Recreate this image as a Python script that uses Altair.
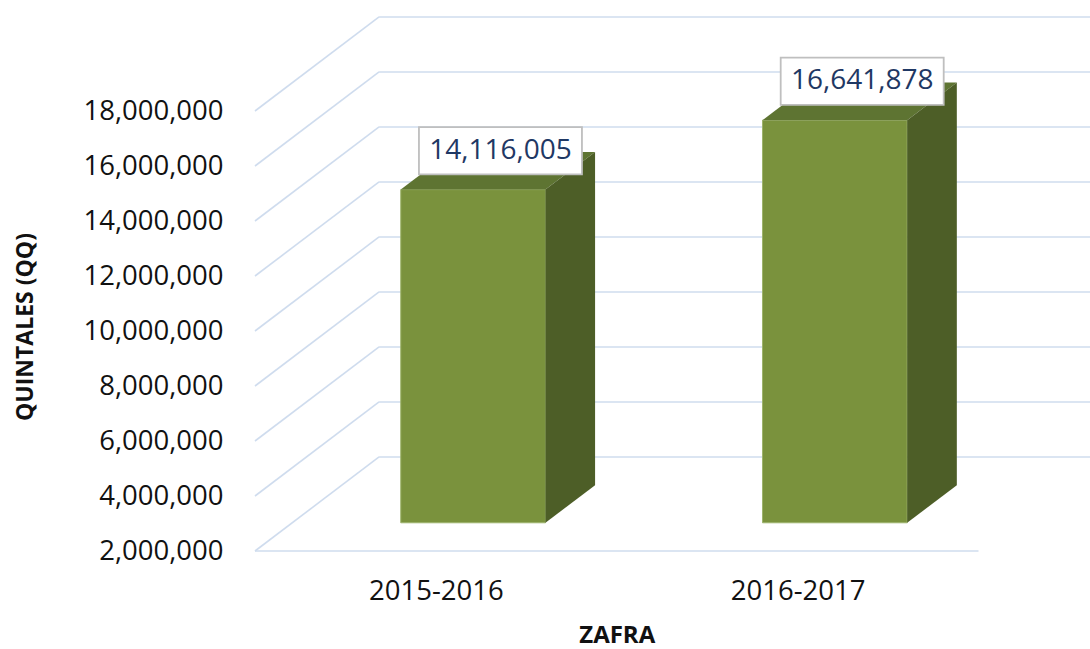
import json
import altair as alt
import pandas as pd

# ---- data ----
categories = ["2015-2016", "2016-2017"]
values = [14116005, 16641878]
y_ticks = [2000000, 4000000, 6000000, 8000000, 10000000,
           12000000, 14000000, 16000000, 18000000]

# ---- geometry (3D oblique look, in data units) ----
Y_MIN, Y_MAX = 2_000_000, 22_000_000
N = len(categories)
WALL_DX = 0.343       # depth of the walls along x (category units)
WALL_DY = 3.42e6      # depth of the walls along y (value units)
BAR_FRONT = 0.30      # bar front plane as fraction of wall depth
BAR_BACK = 0.70       # bar back plane
BAR_HALF = 0.20       # half bar width (category units)
LBL_DX, LBL_DY = 0.007, 0.73e6
BOX_HW, BOX_HH = 0.2253, 0.86e6

FONT = "Open Sans"
GRID = "#CFDCEE"
FRONT_C, TOP_C, SIDE_C = "#7A923D", "#5E7432", "#4D5E27"

x_scale = alt.Scale(domain=[0, N], range=[0, 723.5], nice=False, zero=False)
y_scale = alt.Scale(domain=[Y_MIN, Y_MAX], nice=False, zero=False)

label_expr = json.dumps(categories) + "[floor(datum.value)]"
x_axis = alt.Axis(values=[i + 0.5 for i in range(N)], labelExpr=label_expr,
                  title="ZAFRA", grid=False, ticks=False, domain=False,
                  labelFont=FONT, labelFontSize=27.5, labelColor="#111111",
                  labelPadding=26, labelFlush=False,
                  titleFont=FONT, titleFontSize=24, titleFontWeight="bold",
                  titleColor="#111111", titleBaseline="alphabetic", titleY=91)
y_axis = alt.Axis(values=y_ticks, format=",.0f", title="QUINTALES (QQ)",
                  grid=False, ticks=False, domain=False,
                  labelFont=FONT, labelFontSize=27.5, labelColor="#111111",
                  labelPadding=32,
                  titleFont=FONT, titleFontSize=23, titleFontWeight="bold",
                  titleColor="#111111", titleAngle=270, titleAlign="center",
                  titleBaseline="alphabetic", titleX=-222.5, titleY=325.5)

# ---- tables built from the lists ----
walls = pd.DataFrame({"v": y_ticks})
walls["x0"] = 0.0
walls["x1"] = WALL_DX
walls["xe"] = N + WALL_DX
walls["vb"] = walls["v"] + WALL_DY

floor = pd.DataFrame({"x0": [0.0], "x1": [float(N)], "v": [Y_MIN]})

rows_front, rows_top, rows_side, rows_lbl = [], [], [], []
for i, (cat, val) in enumerate(zip(categories, values)):
    c = i + 0.5
    rows_front.append({"cat": cat,
                       "xl": c - BAR_HALF + BAR_FRONT * WALL_DX,
                       "xr": c + BAR_HALF + BAR_FRONT * WALL_DX,
                       "yb": Y_MIN + BAR_FRONT * WALL_DY,
                       "yt": val + BAR_FRONT * WALL_DY})
    for f in (BAR_FRONT, BAR_BACK):
        rows_top.append({"cat": cat, "yy": val + f * WALL_DY,
                         "xl": c - BAR_HALF + f * WALL_DX,
                         "xr": c + BAR_HALF + f * WALL_DX})
        rows_side.append({"cat": cat, "xs": c + BAR_HALF + f * WALL_DX,
                          "yt": val + f * WALL_DY, "yb": Y_MIN + f * WALL_DY})
    mid = (BAR_FRONT + BAR_BACK) / 2
    cx = c + mid * WALL_DX + LBL_DX
    cy = val + mid * WALL_DY + LBL_DY
    rows_lbl.append({"cat": cat, "cx": cx, "cy": cy, "txt": f"{val:,}",
                     "bx0": cx - BOX_HW, "bx1": cx + BOX_HW,
                     "by0": cy - BOX_HH, "by1": cy + BOX_HH})

front_df = pd.DataFrame(rows_front)
top_df = pd.DataFrame(rows_top)
side_df = pd.DataFrame(rows_side)
lbl_df = pd.DataFrame(rows_lbl)

X = lambda f: alt.X(f, type="quantitative", scale=x_scale, axis=x_axis)
Y = lambda f: alt.Y(f, type="quantitative", scale=y_scale, axis=y_axis)

side_wall = alt.Chart(walls).mark_rule(color=GRID, strokeWidth=1.6).encode(
    x=X("x0"), x2="x1", y=Y("v"), y2="vb")
back_wall = alt.Chart(walls).mark_rule(color=GRID, strokeWidth=1.6, clip=True).encode(
    x=X("x1"), x2="xe", y=Y("vb"))
floor_line = alt.Chart(floor).mark_rule(color=GRID, strokeWidth=1.6).encode(
    x=X("x0"), x2="x1", y=Y("v"))

front = alt.Chart(front_df).mark_rect(color=FRONT_C, stroke="#9DB36C",
                                      strokeWidth=1).encode(
    x=X("xl"), x2="xr", y=Y("yb"), y2="yt")
top = alt.Chart(top_df).mark_area(orient="horizontal", color=TOP_C).encode(
    y=Y("yy"), x=X("xl"), x2="xr", detail="cat:N")
side = alt.Chart(side_df).mark_area(orient="vertical", color=SIDE_C).encode(
    x=X("xs"), y=Y("yt"), y2="yb", detail="cat:N")

box = alt.Chart(lbl_df).mark_rect(fill="white", stroke="#BFBFBF",
                                  strokeWidth=1.8).encode(
    x=X("bx0"), x2="bx1", y=Y("by0"), y2="by1")
text = alt.Chart(lbl_df).mark_text(font=FONT, fontSize=28, color="#1F3864",
                                   align="center", baseline="middle").encode(
    x=X("cx"), y=Y("cy"), text="txt:N")

chart = alt.layer(side_wall, back_wall, floor_line, front, top, side, box, text).properties(
    width=835, height=550,
    autosize=alt.AutoSizeParams(type="none"),
    padding={"left": 255, "top": 1, "right": 0, "bottom": 98},
    background="white",
).configure_view(stroke=None)

chart.save("out.html", embed_options={"renderer": "svg", "actions": False})
